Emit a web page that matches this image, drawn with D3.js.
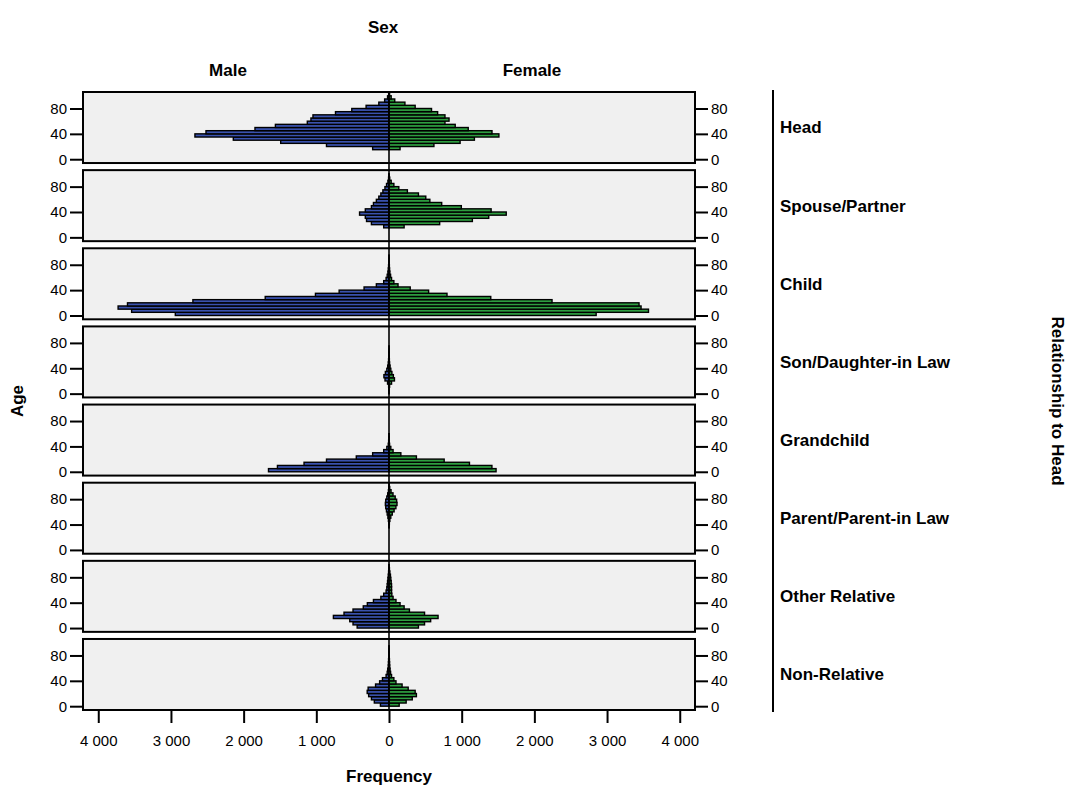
<!DOCTYPE html>
<html>
<head>
<meta charset="utf-8">
<script src="https://cdn.jsdelivr.net/npm/d3@7"></script>
<style>
  html, body { margin: 0; padding: 0; background: #ffffff; }
  svg { display: block; font-family: "Liberation Sans", Arial, sans-serif; }
</style>
</head>
<body>
<svg id="chart" width="1080" height="789"></svg>
<script>
// ---------------- data ----------------
const ageBins = [0,5,10,15,20,25,30,35,40,45,50,55,60,65,70,75,80,85,90,95,100];
const categories = ["Head","Spouse/Partner","Child","Son/Daughter-in Law","Grandchild","Parent/Parent-in Law","Other Relative","Non-Relative"];
const sexes = ["Male","Female"];
const freqTicks = [-4000,-3000,-2000,-1000,0,1000,2000,3000,4000];
const ageTicks = [0,40,80];

const maleHead    = [0,0,0,225,860,1490,2142,2670,2518,1844,1563,1124,1074,1046,736,512,315,140,60,20,5];
const femaleHead  = [0,0,0,152,618,978,1175,1512,1417,1090,911,770,826,770,669,585,360,219,79,30,8];
const maleSpouse  = [0,0,0,73,242,309,326,405,326,242,214,174,140,112,84,56,34,15,6,2,0];
const femaleSpouse= [0,0,0,208,697,1147,1372,1613,1405,995,725,562,506,405,253,135,67,30,10,3,0];
const maleChild   = [2940,3541,3727,3598,2698,1703,1012,686,343,174,73,40,25,15,10,6,4,2,1,0,0];
const femaleChild = [2850,3570,3468,3440,2243,1400,798,545,292,124,67,35,22,12,8,5,3,2,1,0,0];
const maleInLaw   = [2,3,5,20,55,70,50,30,18,10,6,4,2,1,1,0,0,0,0,0,0];
const femaleInLaw = [2,3,8,35,75,60,40,25,15,8,5,3,2,1,1,0,0,0,0,0,0];
const maleGrand   = [1658,1535,1169,860,450,225,73,30,10,5,2,1,0,0,0,0,0,0,0,0,0];
const femaleGrand = [1473,1416,1107,759,377,163,56,25,8,4,2,1,0,0,0,0,0,0,0,0,0];
const maleParent  = [0,0,0,0,0,0,0,1,3,8,15,25,35,45,50,45,30,18,8,3,1];
const femaleParent= [0,0,0,0,0,0,0,2,5,12,25,45,70,95,110,105,85,55,28,10,3];
const maleOther   = [438,495,540,765,619,495,354,298,214,112,73,40,30,25,20,15,10,6,3,1,0];
const femaleOther = [405,489,573,675,489,281,208,152,96,56,39,35,35,35,30,25,20,12,6,2,0];
const maleNonRel  = [118,202,242,280,300,287,185,129,90,40,25,18,10,8,6,4,3,2,1,0,0];
const femaleNonRel= [140,236,320,377,360,264,180,96,67,35,22,15,10,8,6,4,3,2,1,0,0];

const maleSeries   = [maleHead, maleSpouse, maleChild, maleInLaw, maleGrand, maleParent, maleOther, maleNonRel];
const femaleSeries = [femaleHead, femaleSpouse, femaleChild, femaleInLaw, femaleGrand, femaleParent, femaleOther, femaleNonRel];

// ---------------- layout ----------------
const svg = d3.select("#chart");
const plotL = 83, plotR = 695, plotT = 92, plotB = 710;
const maleColor = "#3a52ae", femaleColor = "#2e9e40";
const FONT = "'Liberation Sans', Arial, sans-serif";

const x = d3.scaleLinear().domain([-4210, 4210]).range([plotL, plotR]);
const row = d3.scaleBand().domain(categories).range([plotT, plotB]).paddingInner(0.091).paddingOuter(0);

categories.forEach((cat, i) => {
  const top = row(cat), bot = top + row.bandwidth();
  const y = d3.scaleLinear().domain([-6, 106]).range([bot, top]);
  const g = svg.append("g");

  g.append("rect").attr("x", plotL).attr("y", top).attr("width", plotR - plotL).attr("height", bot - top)
    .attr("fill", "#f0f0f0");

  const data = ageBins.map((a, k) => ({age: a, m: maleSeries[i][k], f: femaleSeries[i][k]}));
  g.selectAll("rect.male").data(data.filter(d => d.m > 0)).join("rect").attr("class", "male")
    .attr("x", d => x(-d.m)).attr("width", d => x(0) - x(-d.m))
    .attr("y", d => y(d.age + 5)).attr("height", d => y(d.age) - y(d.age + 5))
    .attr("fill", maleColor).attr("stroke", "#000").attr("stroke-width", 1.4);
  g.selectAll("rect.female").data(data.filter(d => d.f > 0)).join("rect").attr("class", "female")
    .attr("x", x(0)).attr("width", d => x(d.f) - x(0))
    .attr("y", d => y(d.age + 5)).attr("height", d => y(d.age) - y(d.age + 5))
    .attr("fill", femaleColor).attr("stroke", "#000").attr("stroke-width", 1.4);

  g.append("rect").attr("x", plotL).attr("y", top).attr("width", plotR - plotL).attr("height", bot - top)
    .attr("fill", "none").attr("stroke", "#000").attr("stroke-width", 2);

  const leftAxis = d3.axisLeft(y).tickValues(ageTicks).tickSize(12).tickPadding(3);
  const gl = svg.append("g").attr("transform", `translate(${plotL - 1},0)`).call(leftAxis);
  const rightAxis = d3.axisRight(y).tickValues(ageTicks).tickSize(12).tickPadding(3);
  const gr = svg.append("g").attr("transform", `translate(${plotR + 1},0)`).call(rightAxis);
  [gl, gr].forEach(ax => {
    ax.select(".domain").remove();
    ax.selectAll(".tick line").attr("stroke", "#000").attr("stroke-width", 2);
    ax.selectAll(".tick text").attr("font-size", 15).attr("fill", "#000").attr("font-family", FONT);
  });

  svg.append("text").attr("x", 780).attr("y", (top + bot) / 2).attr("dy", "0.35em")
    .attr("font-size", 17).attr("font-weight", "bold").text(cat);
});

// center line
svg.append("line").attr("x1", x(0)).attr("x2", x(0)).attr("y1", plotT).attr("y2", plotB)
  .attr("stroke", "#000").attr("stroke-width", 1.6);

// bottom axis
const bottomAxis = d3.axisBottom(x).tickValues(freqTicks).tickSize(12).tickPadding(12)
  .tickFormat(d => d3.format(",")(Math.abs(d)).replace(/,/g, " "));
const gb = svg.append("g").attr("transform", `translate(0,${plotB + 1})`).call(bottomAxis);
gb.select(".domain").remove();
gb.selectAll(".tick line").attr("stroke", "#000").attr("stroke-width", 2);
gb.selectAll(".tick text").attr("font-size", 15).attr("fill", "#000").attr("font-family", FONT);

// bracket line for rows
svg.append("line").attr("x1", 773).attr("x2", 773).attr("y1", 90).attr("y2", 712)
  .attr("stroke", "#000").attr("stroke-width", 2);

// titles
const bold = (t, xx, yy, size) => svg.append("text").attr("x", xx).attr("y", yy)
  .attr("text-anchor", "middle").attr("dy", "0.35em").attr("font-size", size).attr("font-weight", "bold").text(t);
bold("Sex", (plotL + plotR) / 2 - 6, 27, 17);
bold(sexes[0], 228, 70, 17);
bold(sexes[1], 532, 70, 17);
bold("Frequency", x(0), 776, 17);
bold("Age", 0, 0, 17).attr("transform", `translate(17,${(plotT + plotB) / 2}) rotate(-90)`);
bold("Relationship to Head", 0, 0, 17).attr("transform", `translate(1058,${(plotT + plotB) / 2}) rotate(90)`);
</script>
</body>
</html>
